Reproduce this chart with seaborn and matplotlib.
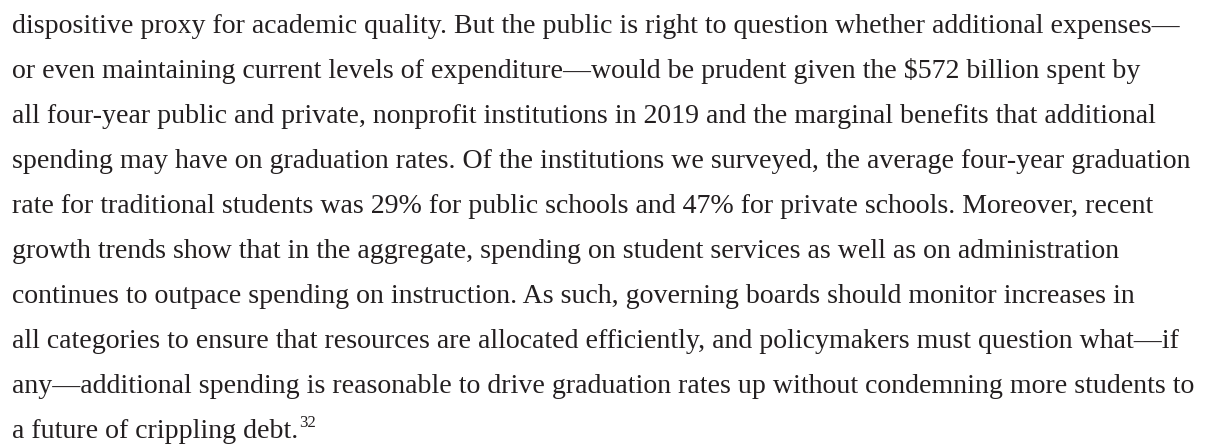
import matplotlib
matplotlib.use("Agg")
import matplotlib.pyplot as plt
import seaborn as sns

# paragraph lines, as broken in the original
lines = [
    "dispositive proxy for academic quality. But the public is right to question whether additional expenses\u2014",
    "or even maintaining current levels of expenditure\u2014would be prudent given the \\$572 billion spent by",
    "all four-year public and private, nonprofit institutions in 2019 and the marginal benefits that additional",
    "spending may have on graduation rates. Of the institutions we surveyed, the average four-year graduation",
    "rate for traditional students was 29% for public schools and 47% for private schools. Moreover, recent",
    "growth trends show that in the aggregate, spending on student services as well as on administration",
    "continues to outpace spending on instruction. As such, governing boards should monitor increases in",
    "all categories to ensure that resources are allocated efficiently, and policymakers must question what\u2014if",
    "any\u2014additional spending is reasonable to drive graduation rates up without condemning more students to",
    "a future of crippling debt.",
]
footnote = "32"

sns.set_theme(style="white")
plt.rcParams['font.family'] = ['Liberation Serif', 'DejaVu Serif']

W, H = 1211, 448
fig = plt.figure(figsize=(W / 100, H / 100), dpi=100)
ax = fig.add_axes([0, 0, 1, 1])
ax.set_xlim(0, W)
ax.set_ylim(H, 0)
ax.axis('off')

color = "#231f20"
x0 = 12
y0 = 33
step = 45

# fit size so first line ends near the right edge of the original
probe = ax.text(x0, y0, lines[0], fontsize=20, va='baseline')
fig.canvas.draw()
r = fig.canvas.get_renderer()
w = probe.get_window_extent(r).width
probe.remove()
size = 20 * (1180 - x0) / w

texts = []
for i, s in enumerate(lines):
    t = ax.text(x0, y0 + i * step, s, fontsize=size, color=color, va='baseline')
    texts.append(t)

fig.canvas.draw()
bb = texts[-1].get_window_extent(fig.canvas.get_renderer())
ax.text(bb.x1 + 1, y0 + (len(lines) - 1) * step - size * 0.55, footnote,
        fontsize=size * 0.6, color=color, va='baseline')

fig.savefig("out.png", dpi=100, facecolor="white")
